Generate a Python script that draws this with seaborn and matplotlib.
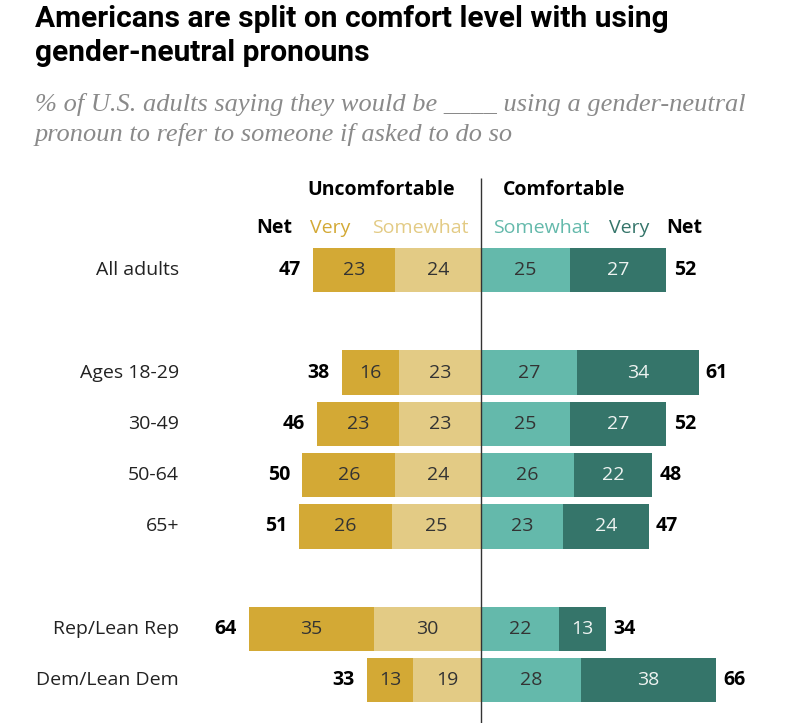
import numpy as np
import pandas as pd
import matplotlib.pyplot as plt
import seaborn as sns

sns.set_style('white')
plt.rcParams['font.family'] = ['Open Sans', 'DejaVu Sans']

# data
groups = ['All adults', 'Ages 18-29', '30-49', '50-64', '65+', 'Rep/Lean Rep', 'Dem/Lean Dem']
unc_very = [23, 16, 23, 26, 26, 35, 13]
unc_some = [24, 23, 23, 24, 25, 30, 19]
com_some = [25, 27, 25, 26, 23, 22, 28]
com_very = [27, 34, 27, 22, 24, 13, 38]
net_unc = [47, 38, 46, 50, 51, 64, 33]
net_com = [52, 61, 52, 48, 47, 34, 66]

# row positions (gaps between blocks)
pos = [0, 2, 3, 4, 5, 7, 8]

c_unc_very = '#D3A935'
c_unc_some = '#E3CB85'
c_com_some = '#64B9AB'
c_com_very = '#35756A'

df = pd.DataFrame({'group': groups, 'pos': pos,
                   'unc_very': unc_very, 'unc_some': unc_some,
                   'com_some': com_some, 'com_very': com_very,
                   'net_unc': net_unc, 'net_com': net_com})
df['unc_total'] = -(df['unc_very'] + df['unc_some'])
df['unc_inner'] = -df['unc_some']
df['com_total'] = df['com_some'] + df['com_very']
df['com_inner'] = df['com_some']

fig = plt.figure(figsize=(8, 7.23), dpi=100)
ax = fig.add_axes([0, 0, 1, 1])

bar_w = 0.86
# outer segments first, inner segments on top
for col, color in [('unc_total', c_unc_very), ('unc_inner', c_unc_some),
                   ('com_total', c_com_very), ('com_inner', c_com_some)]:
    sns.barplot(data=df, x=col, y='pos', orient='y', native_scale=True,
                color=color, width=bar_w, errorbar=None, linewidth=0,
                saturation=1, ax=ax)

# segment labels
fs = 14
for _, r in df.iterrows():
    y = r['pos']
    ax.text(-(r['unc_some'] + r['unc_very'] / 2), y, str(r['unc_very']),
            ha='center', va='center', fontsize=fs, color='#333333')
    ax.text(-r['unc_some'] / 2, y, str(r['unc_some']),
            ha='center', va='center', fontsize=fs, color='#333333')
    ax.text(r['com_some'] / 2, y, str(r['com_some']),
            ha='center', va='center', fontsize=fs, color='#333333')
    ax.text(r['com_some'] + r['com_very'] / 2, y, str(r['com_very']),
            ha='center', va='center', fontsize=fs, color='#EEF3F1')
    # nets
    ax.text(r['unc_total'] - 3.3, y, str(r['net_unc']), ha='right',
            va='center', fontsize=fs, fontweight='bold', color='black')
    ax.text(r['com_total'] + 2.0, y, str(r['net_com']), ha='left',
            va='center', fontsize=fs, fontweight='bold', color='black')
    # row labels
    ax.text(-84.5, y, r['group'], ha='right', va='center', fontsize=fs,
            color='#222222')

# headers
hy1, hy2 = -1.56, -0.82
ax.text(-7.3, hy1, 'Uncomfortable', ha='right', va='center', fontsize=fs,
        fontweight='bold', color='black')
ax.text(6.2, hy1, 'Comfortable', ha='left', va='center', fontsize=fs,
        fontweight='bold', color='black')
ax.text(-58.0, hy2, 'Net', ha='center', va='center', fontsize=fs,
        fontweight='bold', color='black')
ax.text(-42.3, hy2, 'Very', ha='center', va='center', fontsize=fs, color=c_unc_very)
ax.text(-17.1, hy2, 'Somewhat', ha='center', va='center', fontsize=fs, color=c_unc_some)
ax.text(16.8, hy2, 'Somewhat', ha='center', va='center', fontsize=fs, color=c_com_some)
ax.text(41.5, hy2, 'Very', ha='center', va='center', fontsize=fs, color=c_com_very)
ax.text(57.1, hy2, 'Net', ha='center', va='center', fontsize=fs,
        fontweight='bold', color='black')

# center line
ax.vlines(0, -1.8, 8.9, color='#333333', lw=1, zorder=5)

ax.set_xlim(-134.7, 89.4)
ax.set_ylim(8.83, -5.26)
ax.axis('off')

# title and subtitle
title_lines = ['Americans are split on comfort level with using', 'gender-neutral pronouns']
for i, line in enumerate(title_lines):
    fig.text(35 / 800, 1 - (19 + 34 * i) / 723, line, ha='left', va='center',
             fontsize=21.5, fontweight='bold', color='black',
             family=['Roboto', 'DejaVu Sans'])
sub_lines = ['% of U.S. adults saying they would be ____ using a gender-neutral',
             'pronoun to refer to someone if asked to do so']
for i, line in enumerate(sub_lines):
    fig.text(35 / 800, 1 - (104 + 31 * i) / 723, line, ha='left', va='center',
             fontsize=19, style='italic', color='#8A8A8A',
             family=['Liberation Serif', 'DejaVu Serif'])

fig.savefig('out.png', dpi=100)
